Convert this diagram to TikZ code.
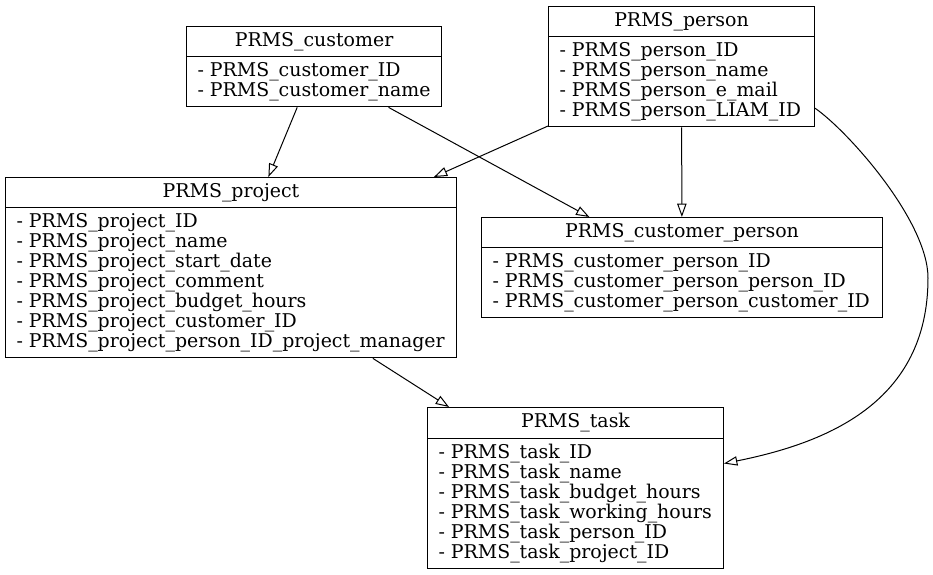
\documentclass[tikz,border=0pt]{standalone}
\usepackage{fontspec}
\setmainfont{DejaVu Serif}
\usetikzlibrary{shapes.multipart,arrows.meta,calc}
\tikzset{every picture/.style={line width=0.75pt}}
\tikzset{
  entity/.style={draw, rectangle split, rectangle split parts=2,
    rectangle split part align={center,left}, align=left, anchor=north west,
    inner xsep=8.25pt, inner ysep=4pt, font=\fontsize{14.2}{15}\selectfont},
  link/.style={-{Triangle[open,length=10pt,width=7pt]}}
}

\begin{document}
\begin{tikzpicture}[x=0.75pt,y=0.75pt,yscale=-1,xscale=1]
\useasboundingbox (0,0) rectangle (933,575);

%Shape: Entity customer
\node [entity, minimum width=191.25pt] (customer) at (186,26) {PRMS\_customer
  \nodepart{second} - PRMS\_customer\_ID\\- PRMS\_customer\_name};
%Shape: Entity person
\node [entity, minimum width=199.5pt] (person) at (548,6) {PRMS\_person
  \nodepart{second} - PRMS\_person\_ID\\- PRMS\_person\_name\\- PRMS\_person\_e\_mail\\- PRMS\_person\_LIAM\_ID};
%Shape: Entity project
\node [entity, minimum width=338.25pt] (project) at (5,177) {PRMS\_project
  \nodepart{second} - PRMS\_project\_ID\\- PRMS\_project\_name\\- PRMS\_project\_start\_date\\- PRMS\_project\_comment\\- PRMS\_project\_budget\_hours\\- PRMS\_project\_customer\_ID\\- PRMS\_project\_person\_ID\_project\_manager};
%Shape: Entity customer person
\node [entity, minimum width=300.75pt] (custperson) at (481,217) {PRMS\_customer\_person
  \nodepart{second} - PRMS\_customer\_person\_ID\\- PRMS\_customer\_person\_person\_ID\\- PRMS\_customer\_person\_customer\_ID};
%Shape: Entity task
\node [entity, minimum width=222pt] (task) at (427,407) {PRMS\_task
  \nodepart{second} - PRMS\_task\_ID\\- PRMS\_task\_name\\- PRMS\_task\_budget\_hours\\- PRMS\_task\_working\_hours\\- PRMS\_task\_person\_ID\\- PRMS\_task\_project\_ID};

%Straight Lines
\draw [link] (customer) -- (project) ;
\draw [link] (customer) -- (custperson) ;
\draw [link] (person) -- (project) ;
\draw [link] (person) -- (custperson) ;
\draw [link] (project) -- (task) ;
%Curve Lines
\draw [link] ($(person.east)+(0,41.5)$) .. controls (848,131) and (928,221) .. (928,278)
  .. controls (928,403) and (826,443) .. ($(task.east)+(0,-24.5)$) ;

\end{tikzpicture}
\end{document}
